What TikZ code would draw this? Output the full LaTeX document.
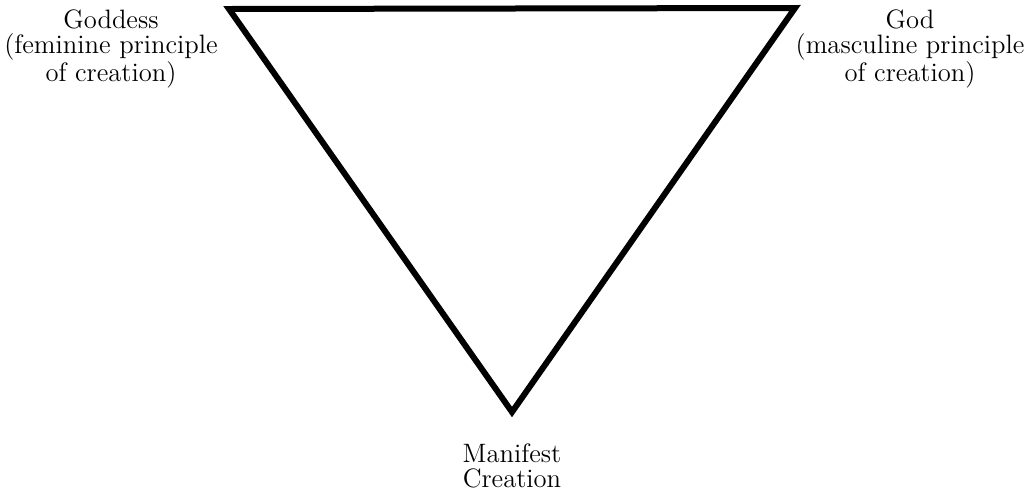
\documentclass[tikz,border=0pt]{standalone}
\usetikzlibrary{positioning}
\begin{document}
\begin{tikzpicture}[x=0.5pt, y=-0.5pt,
    edge/.style={line width=3pt, line join=miter},
    vertexlabel/.style={align=center, inner sep=0pt,
      font=\fontsize{13.3}{12.5}\selectfont}]
  \useasboundingbox (0,0) rectangle (1027,494);
  \coordinate (goddesscorner) at (229,9);
  \coordinate (godcorner) at (795,8);
  \coordinate (creationcorner) at (512,412);
  \draw[edge] (goddesscorner) -- (godcorner) -- (creationcorner) -- cycle;
  \node[vertexlabel] (goddess) at (111,49) {Goddess\\(feminine principle\\of creation)};
  \node[vertexlabel] (god) at (910,49) {God\\(masculine principle\\of creation)};
  \node[vertexlabel, below=15.5pt of creationcorner] (manifest) {Manifest\\Creation};
\end{tikzpicture}
\end{document}
